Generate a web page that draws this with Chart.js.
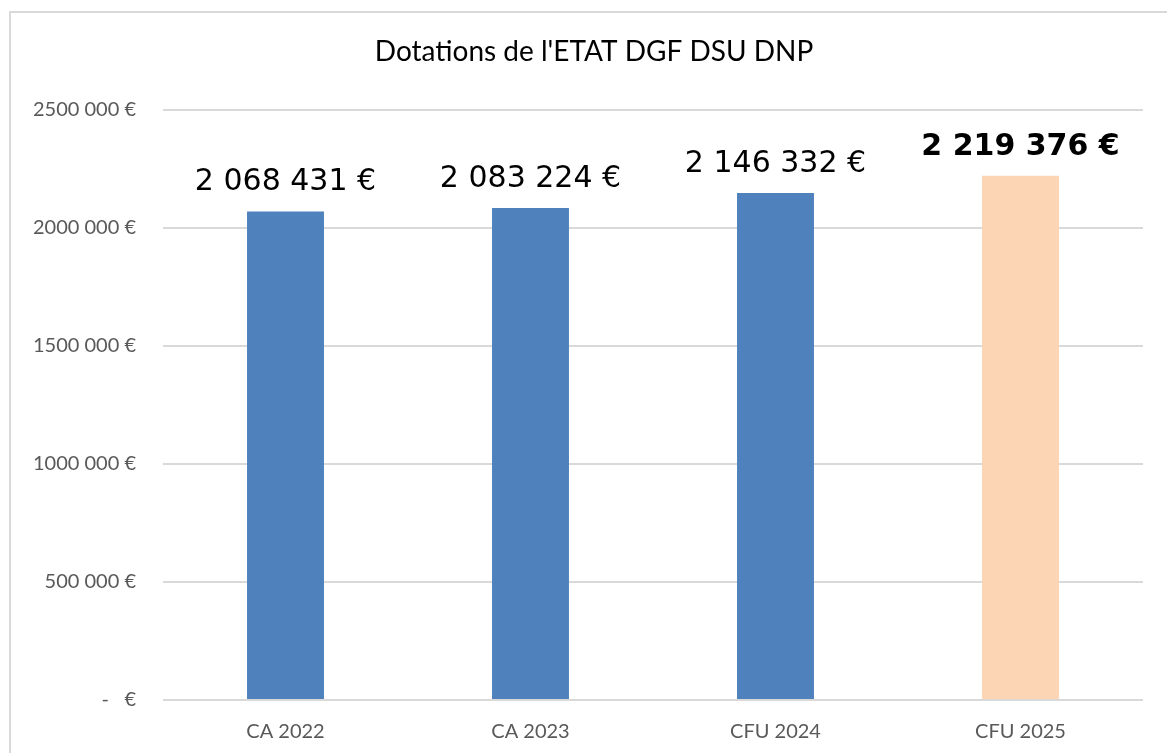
<!DOCTYPE html>
<html>
<head>
<meta charset="utf-8">
<script src="https://cdn.jsdelivr.net/npm/chart.js@4"></script>
<style>
    body { margin: 0; background: #fff; overflow: hidden; width: 1167px; height: 753px; position: relative; }
    .frame { position: absolute; left: 9px; top: 11px; width: 1200px; height: 800px; border-top: 2px solid #d9d9d9; border-left: 2px solid #d9d9d9; }
    #wrap { position: absolute; left: 0; top: 0; width: 1189px; height: 753px; }
</style>
</head>
<body>
<div class="frame"></div>
<div id="wrap"><canvas id="dotChart"></canvas></div>
<script>
// Données du graphique
const categories = ['CA 2022', 'CA 2023', 'CFU 2024', 'CFU 2025'];
const values = [2068431, 2083224, 2146332, 2219376];
const valueLabels = ['2 068 431 €', '2 083 224 €', '2 146 332 €', '2 219 376 €'];
const yTickValues = [0, 500000, 1000000, 1500000, 2000000, 2500000];
const yTickLabels = ['-   €', '500 000 €', '1000 000 €', '1500 000 €', '2000 000 €', '2500 000 €'];
const barColors = ['#4f81bd', '#4f81bd', '#4f81bd', '#fcd5b4'];

// Étiquettes au-dessus des barres + titre un peu décalé vers la droite
const valueLabelPlugin = {
    id: 'valueLabels',
    afterLayout(chart) {
        if (chart.titleBlock) chart.titleBlock.left = 45;
    },
    afterDatasetsDraw(chart) {
        const c = chart.ctx;
        const meta = chart.getDatasetMeta(0);
        c.save();
        c.textAlign = 'center';
        c.textBaseline = 'middle';
        c.fillStyle = '#000';
        meta.data.forEach((bar, i) => {
            const last = i === meta.data.length - 1;
            c.font = (last ? 'bold ' : '') + '30px "DejaVu Sans"';
            c.fillText(valueLabels[i], bar.x, bar.y - 29);
        });
        c.restore();
    }
};

const ctx = document.getElementById('dotChart').getContext('2d');
const dotChart = new Chart(ctx, {
    type: 'bar',
    data: {
        labels: categories,
        datasets: [{
            data: values,
            backgroundColor: barColors,
            borderWidth: 0,
            barPercentage: 0.314,
            categoryPercentage: 1
        }]
    },
    options: {
        responsive: true,
        maintainAspectRatio: false,
        animation: false,
        layout: { padding: { left: 20, right: 46, top: 0, bottom: 0 } },
        plugins: {
            legend: { display: false },
            tooltip: { enabled: false },
            title: {
                display: true,
                text: "Dotations de l'ETAT DGF DSU DNP",
                color: '#000',
                font: { family: 'Lato', size: 28, weight: 'normal' },
                padding: { top: 35, bottom: 41 }
            }
        },
        scales: {
            y: {
                min: 0,
                max: 2500000,
                afterFit(scale) { scale.width = 143; },
                afterBuildTicks(scale) { scale.ticks = yTickValues.map(v => ({ value: v })); },
                border: { display: false },
                grid: { color: '#d9d9d9', lineWidth: 2, drawTicks: false },
                ticks: {
                    color: '#595959',
                    padding: 27,
                    font: { family: 'Lato', size: 20 },
                    callback: (v) => yTickLabels[yTickValues.indexOf(v)]
                }
            },
            x: {
                afterFit(scale) { scale.height = 53; },
                border: { display: false },
                grid: { display: false, drawTicks: false },
                ticks: {
                    color: '#595959',
                    padding: 20,
                    font: { family: 'Lato', size: 20 }
                }
            }
        }
    },
    plugins: [valueLabelPlugin]
});
</script>
</body>
</html>
